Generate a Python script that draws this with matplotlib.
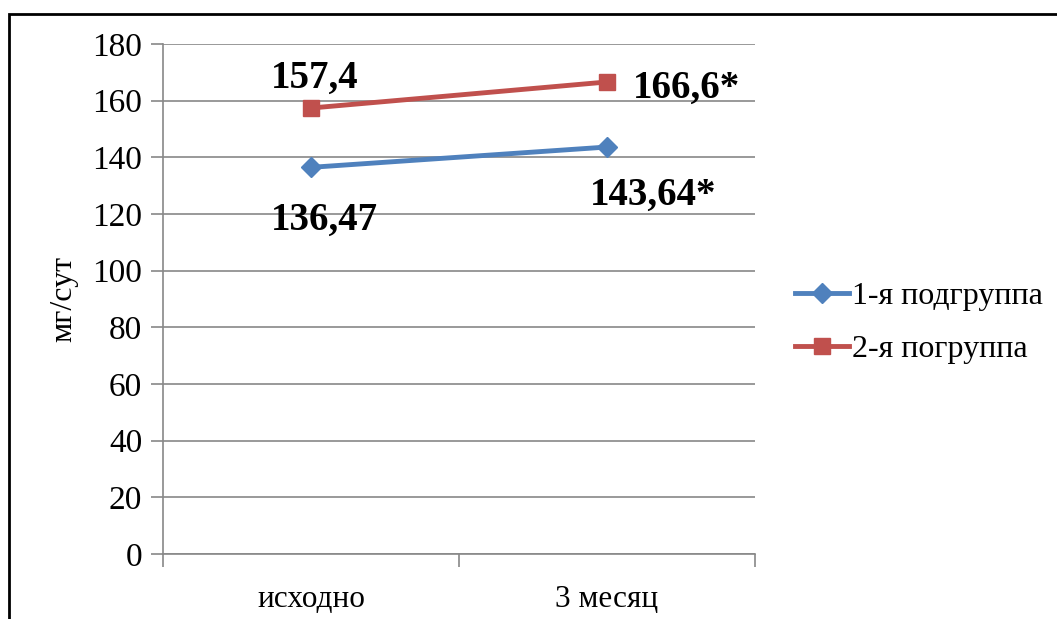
import matplotlib.pyplot as plt
from matplotlib.patches import Rectangle

plt.rcParams['font.family'] = ['Liberation Serif', 'DejaVu Serif']

categories = ['исходно', '3 месяц']
group1 = [136.47, 143.64]
group2 = [157.4, 166.6]
group1_labels = ['136,47', '143,64*']
group2_labels = ['157,4', '166,6*']

W, H = 1057, 619
fig = plt.figure(figsize=(W / 100, H / 100), dpi=100)
ax = fig.add_axes([163 / W, 1 - 554 / H, 592 / W, 510 / H])

x = [0.5, 1.5]
ax.plot(x, group1, color='#4F81BD', lw=3.5, marker='D', ms=10, label='1-я подгруппа')
ax.plot(x, group2, color='#C0504D', lw=3.5, marker='s', ms=12, label='2-я погруппа')

ax.set_xlim(0, 2)
ax.set_ylim(0, 180)
ax.set_yticks(range(0, 181, 20))
ax.set_xticks(x)
ax.set_xticklabels(categories)
ax.set_xticks([0, 1, 2], minor=True)
ax.tick_params(axis='x', which='major', length=0, labelsize=22.5, pad=22)
ax.tick_params(axis='x', which='minor', length=9, color='#888888', width=1.2, direction='out')
ax.tick_params(axis='y', labelsize=24, length=9, color='#888888', width=1.2, pad=6)
ax.grid(axis='y', color='#888888', lw=1.2)
ax.set_axisbelow(True)
for s in ['top', 'right']:
    ax.spines[s].set_visible(False)
ax.spines['left'].set_color('#888888')
ax.spines['bottom'].set_color('#888888')
ax.spines['left'].set_linewidth(1.2)
ax.spines['bottom'].set_linewidth(1.2)
ax.set_ylabel('мг/сут', fontsize=23, labelpad=10)

# value labels next to each point
bold = dict(fontsize=28, fontweight='bold', textcoords='offset pixels', va='center')
ax.annotate(group2_labels[0], (x[0], group2[0]), xytext=(4, 30), ha='center', **bold)
ax.annotate(group2_labels[1], (x[1], group2[1]), xytext=(26, -6), ha='left', **bold)
ax.annotate(group1_labels[0], (x[0], group1[0]), xytext=(13, -53), ha='center', **bold)
ax.annotate(group1_labels[1], (x[1], group1[1]), xytext=(46, -48), ha='center', **bold)

fig.legend(loc='center left', bbox_to_anchor=(795 / W, 1 - 323 / H), frameon=False,
           fontsize=23, handlelength=1.7, handletextpad=0.1, labelspacing=0.75,
           borderpad=0, borderaxespad=0)

fig.patches.append(Rectangle((9 / W, -0.1), 1.2, 1 - 14 / H + 0.1, transform=fig.transFigure,
                             fill=False, edgecolor='black', lw=2))

fig.savefig('out.png', dpi=100)
